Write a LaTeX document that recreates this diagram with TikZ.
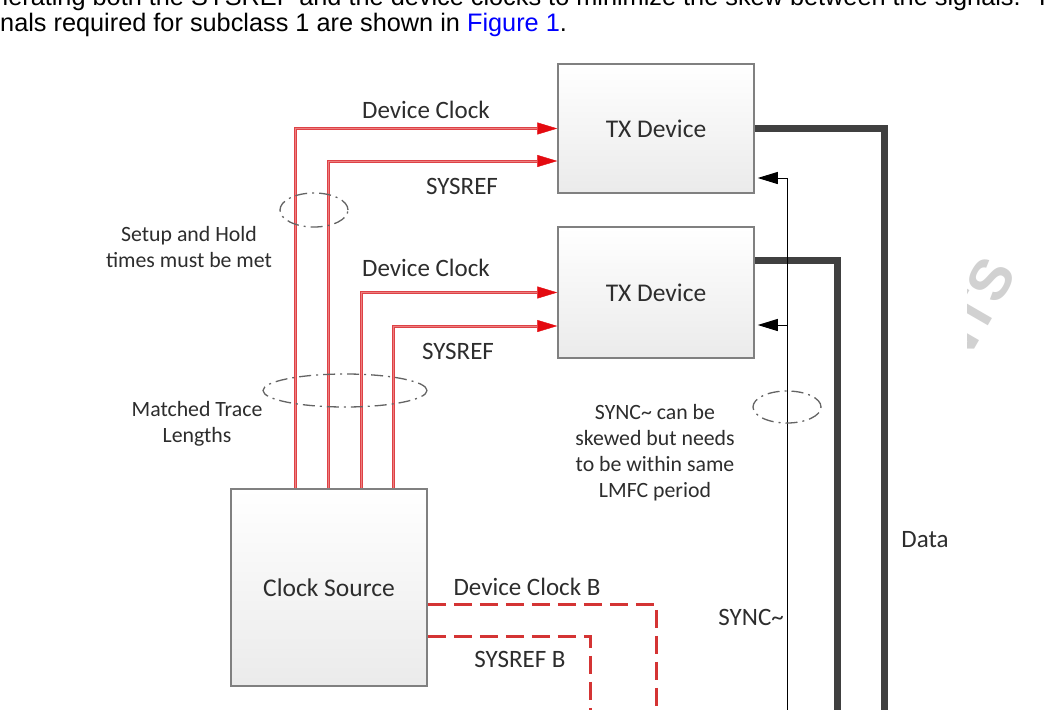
\documentclass[tikz,border=0pt]{standalone}
\usepackage{fontspec}
\setmainfont{Carlito}
\newfontfamily\arialf{Liberation Sans}
\usetikzlibrary{arrows.meta,shapes.geometric,calc}
\definecolor{myred}{RGB}{222,66,70}
\definecolor{innerred}{RGB}{236,128,128}
\definecolor{tipred}{RGB}{228,10,16}
\definecolor{dred}{RGB}{212,52,52}
\definecolor{boxline}{RGB}{128,128,128}
\definecolor{datagray}{RGB}{64,64,64}
\definecolor{txtgray}{RGB}{45,45,45}
\definecolor{ellgray}{RGB}{100,100,100}
\definecolor{linkblue}{RGB}{0,0,255}
\tikzset{
  devbox/.style={draw=boxline, line width=1.5pt, top color=white, bottom color=black!8,
    minimum width=196pt, inner sep=0pt, font=\fontsize{25.5}{30}\selectfont, text=txtgray},
  redline/.style={draw=myred, line width=3pt,
    postaction={draw=innerred, line width=1pt, -, shorten >=20pt}},
  redtip/.style={-{Triangle[length=20pt,width=12pt,color=tipred,fill=tipred,line width=0.4pt]}},
  dredline/.style={draw=dred, line width=3pt, dash pattern=on 18pt off 8pt},
  syncline/.style={draw=black, line width=1pt, -{Triangle[length=20pt,width=12pt]}},
  dataline/.style={draw=datagray, line width=7pt},
  ring/.style={ellipse, draw=ellgray, line width=1.3pt, inner sep=0pt,
    dash pattern=on 12pt off 5pt on 2pt off 5pt},
  lbl/.style={font=\fontsize{25}{30}\selectfont, text=txtgray, inner sep=0pt},
  note/.style={font=\fontsize{21.8}{26}\selectfont, text=txtgray, align=center, inner sep=0pt},
  body/.style={anchor=base west, inner sep=0pt, font=\arialf\fontsize{25.3}{28}\selectfont},
}
\begin{document}
\begin{tikzpicture}[x=1pt,y=-1pt]
\useasboundingbox (0,0) rectangle (1046,709);
\fill[white] (0,0) rectangle (1046,709);

% watermark fragment
\begin{scope}
\clip (967,230) rectangle (1046,380);
\node[rotate=60, anchor=east, text=black!18, inner sep=0pt,
  font={\fontspec{Liberation Sans}\bfseries\fontsize{58}{60}\selectfont}] (wm) at (1001,263) {NTS};
\end{scope}

% top body text
\node[body] (t1) at (-6,6)
  {nerating both the SYSREF and the device clocks to minimize the skew between the signals.\ \ Th};
\node[body] (t2) at (0,31.5)
  {nals required for subclass 1 are shown in \textcolor{linkblue}{Figure 1}.};

% boxes
\node[devbox, minimum height=129pt] (tx1) at (656,128.5) {TX Device};
\node[devbox, minimum height=131pt] (tx2) at (656,292.5) {TX Device};
\node[devbox, minimum height=197pt] (cs) at (329,587.5) {Clock Source};

% bottom-edge coordinates
\coordinate (d1bot) at (884,715);
\coordinate (d2bot) at (837,715);
\coordinate (syncbot) at (787,715);
\coordinate (dcbbot) at (656,715);
\coordinate (srbbot) at (590,715);

% data lines
\draw[dataline] (tx1.east) -| (d1bot);
\draw[dataline] ([yshift=32.5pt]tx2.east) -| (d2bot);

% sync lines
\draw[syncline] (syncbot) |- ([xshift=3pt,yshift=-49.5pt]tx1.east);
\coordinate (sync2) at (syncbot |- {0,325});
\draw[syncline] (sync2) -- ([xshift=3pt,yshift=-32.5pt]tx2.east);

% red clock lines
\draw[redline, redtip] ([xshift=65pt]cs.north west) |- (tx1.west);
\draw[redline, redtip] ([xshift=98pt]cs.north west) |- ([yshift=-32.5pt]tx1.west);
\draw[redline, redtip] ([xshift=131pt]cs.north west) |- (tx2.west);
\draw[redline, redtip] ([xshift=163pt]cs.north west) |- ([yshift=-33.5pt]tx2.west);

% dashed B lines
\draw[dredline] ([yshift=-16.5pt]cs.east) -| (dcbbot);
\draw[dredline] ([yshift=-48.5pt]cs.east) -| (srbbot);

% rings
\node[ring, minimum width=68pt, minimum height=34pt] (r1) at (314,210) {};
\node[ring, minimum width=164pt, minimum height=33pt] (r2) at (345,390.5) {};
\node[ring, minimum width=68pt, minimum height=32pt] (r3) at (787,407) {};

% labels
\node[lbl] (l1) at (426,110) {Device Clock};
\node[lbl] (l2) at (462,186) {SYSREF};
\node[lbl] (l3) at (426,268) {Device Clock};
\node[lbl] (l4) at (458,351) {SYSREF};
\node[lbl] (l5) at (527,587) {Device Clock B};
\node[lbl] (l6) at (520,659) {SYSREF B};
\node[lbl] (l7) at (925,540) {Data};
\node[lbl, anchor=east] (l8) at (784,617) {SYNC\textasciitilde};

\node[note] (n1) at (189,247) {Setup and Hold\\times must be met};
\node[note] (n2) at (197,424) {Matched Trace\\Lengths};
\node[note] (n3) at (655,453) {SYNC\textasciitilde\ can be\\skewed but needs\\to be within same\\LMFC period};
\end{tikzpicture}
\end{document}
